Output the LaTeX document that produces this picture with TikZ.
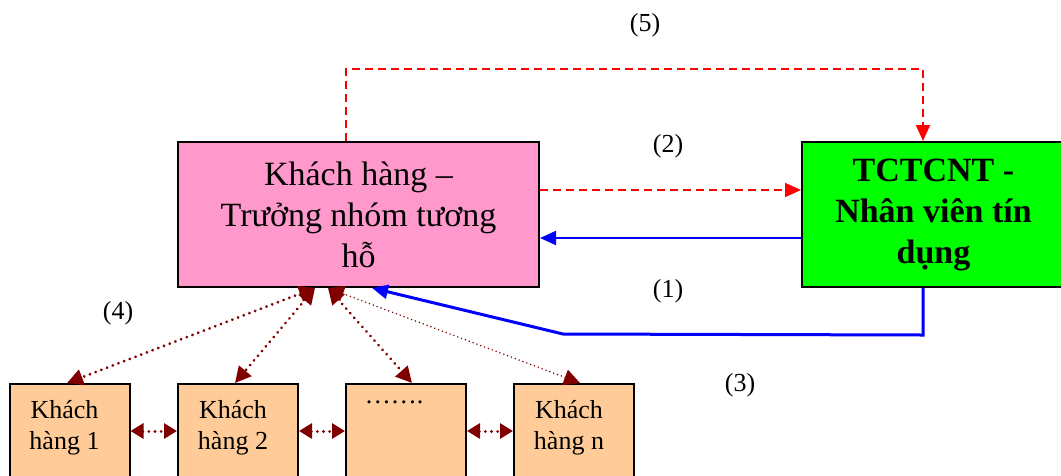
\documentclass[tikz,border=0pt]{standalone}
\usepackage{fontspec}
\setmainfont{Liberation Serif}
\usetikzlibrary{arrows.meta}
\definecolor{boxpink}{HTML}{FF99CC}
\definecolor{boxgreen}{HTML}{00FF00}
\definecolor{boxpeach}{HTML}{FFCC99}
\definecolor{maroon}{HTML}{800000}
\definecolor{linkblue}{HTML}{0000FF}
\definecolor{linkred}{HTML}{FF0000}
\tikzset{
  bigbox/.style={draw=black, line width=2pt, minimum width=#1, minimum height=145pt,
    align=center, inner sep=0pt},
  pinkbox/.style={bigbox=361pt, fill=boxpink, font=\fontsize{34pt}{41pt}\selectfont},
  greenbox/.style={bigbox=263pt, fill=boxgreen, font=\fontsize{34pt}{41pt}\selectfont\bfseries},
  custbox/.style={draw=black, line width=2pt, fill=boxpeach, minimum width=120pt,
    minimum height=110pt, anchor=north, inner sep=0pt},
  custtext/.style={anchor=north, align=center, font=\fontsize{26pt}{31pt}\selectfont},
  steplabel/.style={font=\fontsize{26pt}{30pt}\selectfont},
  reddash/.style={draw=linkred, line width=2pt, dash pattern=on 8pt off 5pt,
    -{Triangle[length=16pt,width=14pt]}},
  bluelink/.style={draw=linkblue, line width=3pt, -{Triangle[length=16pt,width=14pt]}},
  relation/.style={draw=maroon, line width=3pt, line cap=round, dash pattern=on 0.1pt off 6pt,
    {Triangle[length=16pt,width=16pt]}-{Triangle[length=16pt,width=16pt]}},
  sidelink/.style={draw=maroon, line width=3pt, line cap=round, dash pattern=on 0.1pt off 6pt,
    {Triangle[length=13pt,width=15pt]}-{Triangle[length=13pt,width=15pt]}},
}
\begin{document}
\begin{tikzpicture}[x=1pt,y=-1pt]
  \clip (0,0) rectangle (1061,475);
  \useasboundingbox (0,0) rectangle (1061,475);

  % main participants
  \node[pinkbox] (kh) at (358.5,214.5) {Khách hàng --\\Trưởng nhóm tương\\hỗ};
  \node[greenbox] (tc) at (933.5,214.5) {TCTCNT -\\Nhân viên tín\\dụng};

  % group members
  \node[custbox] (c1) at (69.5,383) {};
  \node[custbox] (c2) at (238,383) {};
  \node[custbox] (c3) at (406,383) {};
  \node[custbox] (c4) at (574,383) {};
  \node[custtext] at ([xshift=-5pt,yshift=-14pt]c1.north) {Khách\\hàng 1};
  \node[custtext] at ([xshift=-5pt,yshift=-14pt]c2.north) {Khách\\hàng 2};
  \node[custtext] at ([xshift=-12pt,yshift=-14pt]c3.north) {…….\\\strut};
  \node[custtext] at ([xshift=-5pt,yshift=-14pt]c4.north) {Khách\\hàng n};

  % step numbers
  \node[steplabel] (s5) at (645,25) {(5)};
  \node[steplabel] (s2) at (668,146) {(2)};
  \node[steplabel] (s1) at (668,291) {(1)};
  \node[steplabel] (s3) at (740,385) {(3)};
  \node[steplabel] (s4) at (118,313) {(4)};

  % (5) request over the top
  \draw[reddash] ([xshift=-12.5pt]kh.north) |- ([xshift=-10.5pt,yshift=72pt]tc.north)
    -- ([xshift=-10.5pt]tc.north);
  % (2) request to the lender
  \draw[reddash] ([yshift=24.5pt]kh.east) -- ([yshift=24.5pt]tc.west);
  % (1) answer back
  \draw[bluelink, line width=2pt] ([yshift=-23.5pt]tc.west) -- ([yshift=-23.5pt]kh.east);
  % (3) disbursement
  \draw[bluelink] ([xshift=-10.5pt]tc.south) -- ++(0,47) -- (563,334)
    -- ([xshift=13.5pt]kh.south);

  % (4) leader and members
  \draw[relation] ([xshift=-43.5pt]kh.south) -- ([xshift=-2.5pt]c1.north);
  \draw[relation] ([xshift=-43.5pt]kh.south) -- ([xshift=-3pt]c2.north);
  \draw[relation] ([xshift=-30.5pt]kh.south) -- ([xshift=6pt]c3.north);
  \draw[relation, line width=1.6pt, dash pattern=on 0.1pt off 4pt] ([xshift=-30.5pt]kh.south) -- ([xshift=6pt]c4.north);

  % members among themselves
  \draw[sidelink] ([yshift=-48pt]c1.north east) -- ([yshift=-48pt]c2.north west);
  \draw[sidelink] ([yshift=-48pt]c2.north east) -- ([yshift=-48pt]c3.north west);
  \draw[sidelink] ([yshift=-48pt]c3.north east) -- ([yshift=-48pt]c4.north west);
\end{tikzpicture}
\end{document}
